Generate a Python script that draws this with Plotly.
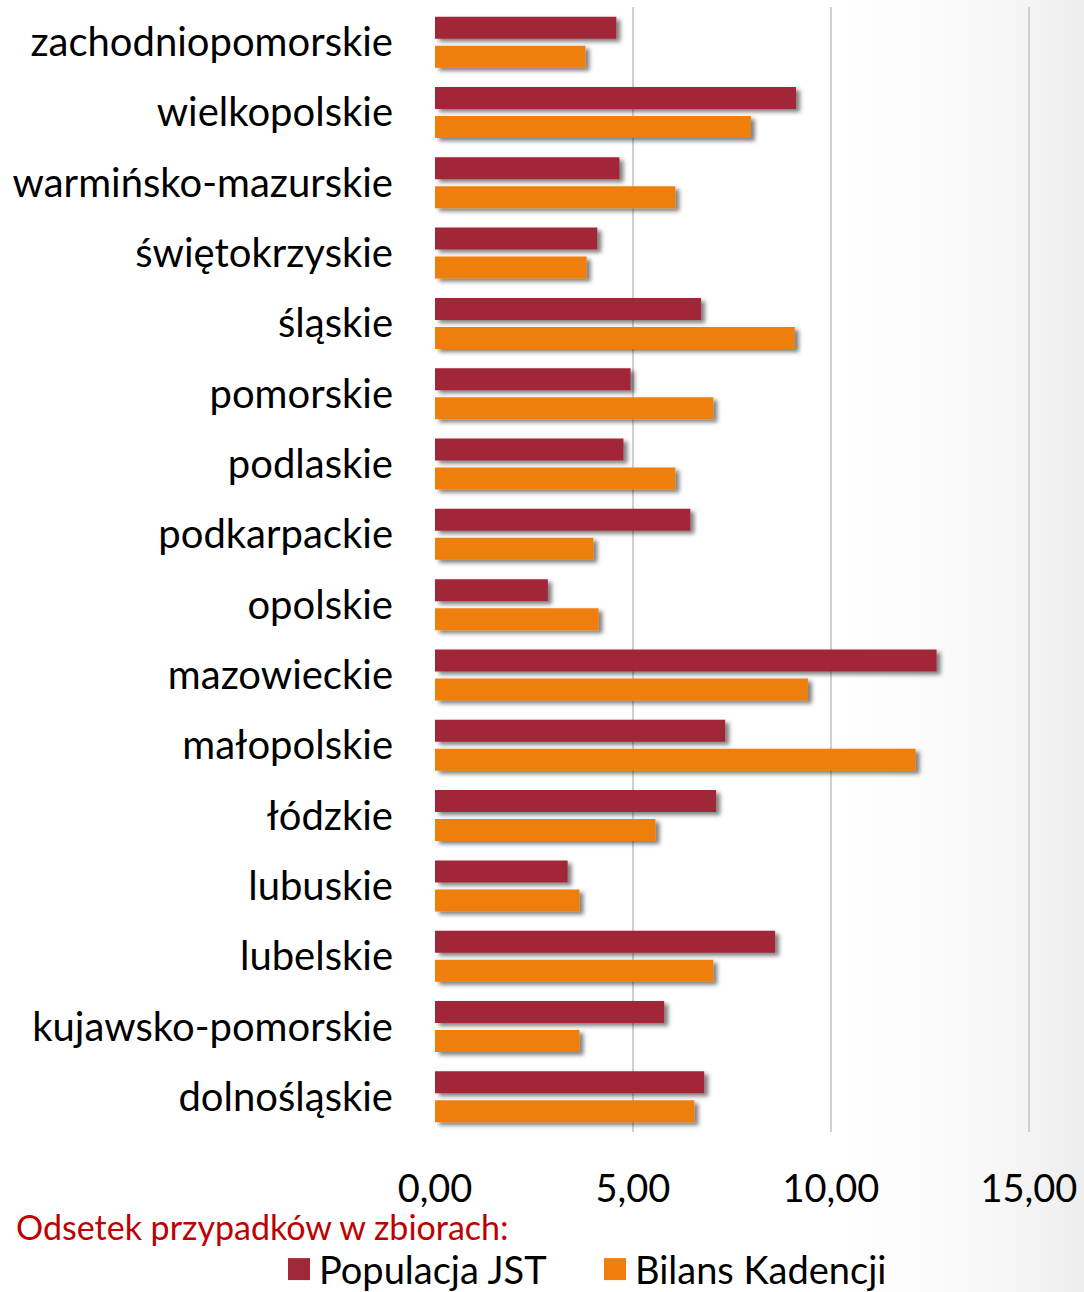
import plotly.graph_objects as go

categories = ["zachodniopomorskie", "wielkopolskie", "warmińsko-mazurskie", "świętokrzyskie",
              "śląskie", "pomorskie", "podlaskie", "podkarpackie", "opolskie", "mazowieckie",
              "małopolskie", "łódzkie", "lubuskie", "lubelskie", "kujawsko-pomorskie", "dolnośląskie"]
populacja_jst = [4.58, 9.12, 4.66, 4.10, 6.72, 4.94, 4.76, 6.45, 2.85, 12.67,
                 7.33, 7.10, 3.35, 8.59, 5.79, 6.80]
bilans_kadencji = [3.80, 7.98, 6.07, 3.83, 9.09, 7.03, 6.07, 4.00, 4.13, 9.42,
                   12.14, 5.57, 3.65, 7.03, 3.65, 6.55]
series_names = ["Populacja JST", "Bilans Kadencji"]
series_colors = ["#A02837", "#EF7F0A"]
x_ticks = [0, 5, 10, 15]

FONT = "Lato, 'Open Sans', sans-serif"

fig = go.Figure()
for name, vals, col in zip(series_names, [populacja_jst, bilans_kadencji], series_colors):
    fig.add_trace(go.Bar(y=categories, x=vals, orientation="h", name=name, showlegend=False,
                         marker=dict(color=col, line=dict(width=0))))
# legend-only entries with square swatches (one legend box per series)
for name, col, lg in zip(series_names, series_colors, ["legend", "legend2"]):
    fig.add_trace(go.Scatter(x=[None], y=[None], mode="markers", name=name, legend=lg,
                             marker=dict(symbol="square", size=22, color=col), showlegend=True))

leg_common = dict(orientation="h", xref="container", yref="container", xanchor="left",
                  y=0.0175, yanchor="middle", font=dict(size=38, color="#000000"),
                  bgcolor="rgba(0,0,0,0)", itemwidth=30, itemsizing="trace")

fig.update_layout(
    width=1084, height=1292,
    margin=dict(l=435, r=52, t=7, b=160),
    barmode="group", bargap=0.175, bargroupgap=0.24,
    paper_bgcolor="rgba(0,0,0,0)", plot_bgcolor="rgba(0,0,0,0)",
    separators=", ",
    font=dict(family=FONT, color="#000000", size=38),
    showlegend=True,
    legend=dict(x=279 / 1084, **leg_common),
    legend2=dict(x=595 / 1084, **leg_common),
    xaxis=dict(range=[0, 15.03], tickvals=x_ticks, tickformat=".2f", showgrid=True,
               gridcolor="#D0D0D0", gridwidth=2, zeroline=False, showline=False,
               ticks="outside", ticklen=23, tickcolor="rgba(0,0,0,0)",
               tickfont=dict(size=38, color="#000000")),
    yaxis=dict(autorange="reversed", showgrid=False, zeroline=False, showline=False,
               ticks="outside", ticklen=33, tickcolor="rgba(0,0,0,0)",
               tickfont=dict(size=40, color="#000000")),
    annotations=[dict(text="Odsetek przypadków w zbiorach:", xref="paper", yref="paper",
                      x=-0.707, y=-0.0844, xanchor="left", yanchor="middle", showarrow=False,
                      font=dict(size=34, color="#C00000", family=FONT))],
)

post = """
document.body.style.margin='0';
document.body.style.background='linear-gradient(to right, #ffffff 0%, #ffffff 78%, #f7f7f7 92%, #ededed 100%)';
function shade(){
  var svg = document.querySelector('.main-svg');
  if(!svg) return;
  if(!document.getElementById('barshadow')){
    var ns='http://www.w3.org/2000/svg';
    var defs=document.createElementNS(ns,'defs');
    var f=document.createElementNS(ns,'filter');
    f.setAttribute('id','barshadow');
    f.setAttribute('x','-10%'); f.setAttribute('y','-40%');
    f.setAttribute('width','130%'); f.setAttribute('height','200%');
    var d=document.createElementNS(ns,'feDropShadow');
    d.setAttribute('dx','4'); d.setAttribute('dy','3');
    d.setAttribute('stdDeviation','2.2');
    d.setAttribute('flood-color','#000'); d.setAttribute('flood-opacity','0.5');
    f.appendChild(d); defs.appendChild(f); svg.insertBefore(defs, svg.firstChild);
  }
  document.querySelectorAll('.barlayer path').forEach(function(p){
    p.setAttribute('filter','url(#barshadow)');
  });
  document.querySelectorAll('.legendpoints path.scatterpts').forEach(function(p){
    p.setAttribute('d','M-11,-11H11V11H-11Z');
  });
}
shade();
setTimeout(shade, 50); setTimeout(shade, 300); setTimeout(shade, 1000);
"""
fig.write_html("out.html", post_script=post, config={"displayModeBar": False})
